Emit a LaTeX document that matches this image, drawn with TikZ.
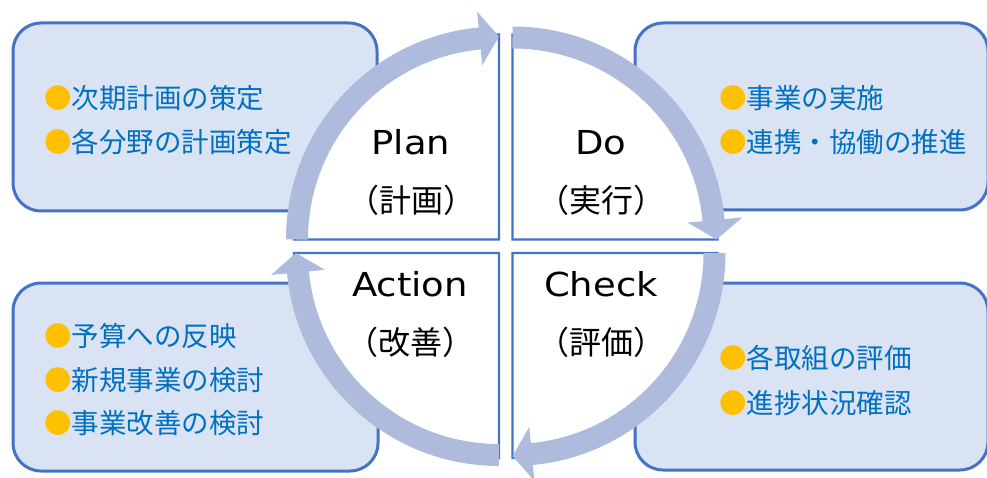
\documentclass[tikz,border=0pt]{standalone}
\usepackage{fontspec}
\newfontfamily\jpfont{Noto Sans CJK JP}
\newfontfamily\latinfont[FakeStretch=1.12]{DejaVu Sans}
\usetikzlibrary{calc}
\definecolor{boxfill}{HTML}{DAE3F3}
\definecolor{boxline}{HTML}{4472C4}
\definecolor{bandc}{RGB}{174,187,221}
\definecolor{txtblue}{HTML}{0070C0}
\definecolor{bulletc}{HTML}{FFC000}
\begin{document}
\begin{tikzpicture}[x=1pt,y=1pt,
  infobox/.style={fill=boxfill,draw=boxline,line width=3pt,rounded corners=28pt},
  quad/.style={fill=white,draw=boxline,line width=2.2pt},
  bandarc/.style={draw=bandc,line width=22pt},
  bandhead/.style={fill=bandc},
  item/.style={anchor=base west,inner sep=0pt,text=txtblue,font=\jpfont\fontsize{27.5}{27.5}\selectfont},
  phase/.style={anchor=base,inner sep=0pt,font=\latinfont\fontsize{33}{33}\selectfont},
  phasejp/.style={anchor=base,inner sep=0pt,font=\jpfont\fontsize{32}{32}\selectfont}]
\useasboundingbox (0,0) rectangle (987,477);
\clip (0,0) rectangle (987,477);
% info boxes
\draw[infobox] (13,266) rectangle (377,454);
\draw[infobox] (635,267) rectangle (988,454);
\draw[infobox] (13,6) rectangle (378,194);
\draw[infobox] (635,7) rectangle (988,194);
% quadrant corners
\coordinate (cTL) at (499,237.5);
\coordinate (cTR) at (512.5,237.5);
\coordinate (cBL) at (499,224);
\coordinate (cBR) at (512.5,224);
% quadrants
\draw[quad] (cTL) -- ++(-205,0) arc[start angle=180,end angle=90,radius=205] -- cycle;
\draw[quad] (cTR) -- ++(0,205) arc[start angle=90,end angle=0,radius=205] -- cycle;
\draw[quad] (cBR) -- ++(205,0) arc[start angle=0,end angle=-90,radius=205] -- cycle;
\draw[quad] (cBL) -- ++(0,-205) arc[start angle=-90,end angle=-180,radius=205] -- cycle;
% cycle arrows
\draw[bandarc] ($(cTL)+(180:202)$) arc[start angle=180,end angle=95,radius=202];
\fill[bandhead] ($(cTL)+(95.5:175)$) -- ($(cTL)+(95.5:229)$) -- ($(cTL)+(90:203)$) -- cycle;
\draw[bandarc] ($(cTR)+(90:202)$) arc[start angle=90,end angle=5,radius=202];
\fill[bandhead] ($(cTR)+(5.5:176)$) -- ($(cTR)+(5.5:231)$) -- ($(cTR)+(0:204)$) -- cycle;
\draw[bandarc] ($(cBR)+(0:202)$) arc[start angle=0,end angle=-85,radius=202];
\fill[bandhead] ($(cBR)+(-84.5:175)$) -- ($(cBR)+(-84.5:229)$) -- ($(cBR)+(-90:203)$) -- cycle;
\draw[bandarc] ($(cBL)+(-90:202)$) arc[start angle=-90,end angle=-175,radius=202];
\fill[bandhead] ($(cBL)+(-174.5:175)$) -- ($(cBL)+(-174.5:229)$) -- ($(cBL)+(-180:203)$) -- cycle;
% phase labels
\node[phase] (plan) at (411,322) {Plan};
\node[phasejp] (planjp) at (411,264) {（計画）};
\node[phase] (do) at (601,322) {Do};
\node[phasejp] (dojp) at (601,264) {（実行）};
\node[phase] (act) at (410,181) {Action};
\node[phasejp] (actjp) at (410,123) {（改善）};
\node[phase] (chk) at (601,181) {Check};
\node[phasejp] (chkjp) at (601,123) {（評価）};
% box items
\node[item] (tl1) at (44,368) {{\color{bulletc}●}次期計画の策定};
\node[item] (tl2) at (44,324) {{\color{bulletc}●}各分野の計画策定};
\node[item] (tr1) at (719,368) {{\color{bulletc}●}事業の実施};
\node[item] (tr2) at (719,324) {{\color{bulletc}●}連携・協働の推進};
\node[item] (bl1) at (44,130.5) {{\color{bulletc}●}予算への反映};
\node[item] (bl2) at (44,87) {{\color{bulletc}●}新規事業の検討};
\node[item] (bl3) at (44,43.5) {{\color{bulletc}●}事業改善の検討};
\node[item] (br1) at (719,108.5) {{\color{bulletc}●}各取組の評価};
\node[item] (br2) at (719,63.5) {{\color{bulletc}●}進捗状況確認};
\end{tikzpicture}
\end{document}
